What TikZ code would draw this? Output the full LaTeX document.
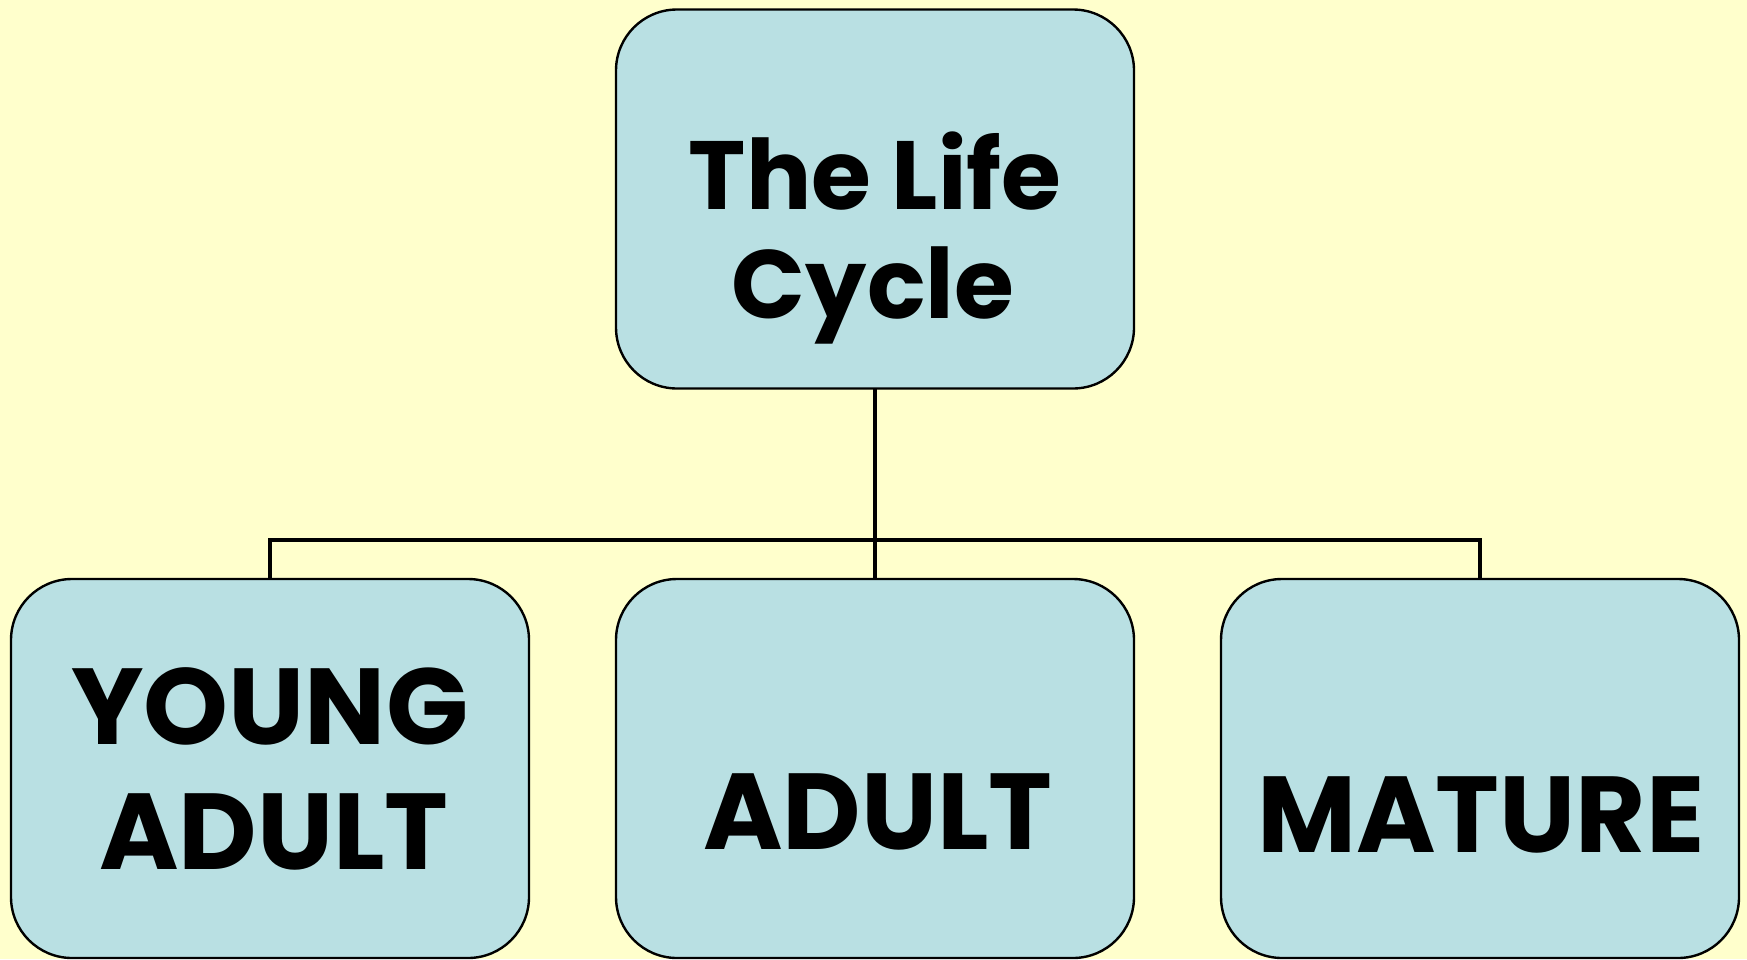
\documentclass[tikz,border=0pt]{standalone}
\usepackage{fontspec}
\setmainfont{Poppins}
\definecolor{bgyellow}{HTML}{FFFFCC}
\definecolor{boxblue}{HTML}{B9E0E3}
\begin{document}
\begin{tikzpicture}[x=1pt,y=-1pt,
  stagebox/.style={draw=black,line width=2.4pt,fill=boxblue,rounded corners=61pt,
    minimum width=518pt,minimum height=379pt,inner sep=0pt,outer sep=0pt},
  bigtext/.style={font=\bfseries\fontsize{108}{125}\selectfont,inner sep=0pt,anchor=base},
  toptext/.style={font=\bfseries\fontsize{97}{108}\selectfont,inner sep=0pt,anchor=base},
  link/.style={line width=4pt}]
\fill[bgyellow] (0,0) rectangle (1747,959);
\useasboundingbox (0,0) rectangle (1747,959);
\node[stagebox] (top) at (875,199) {};
\node[stagebox] (young) at (270,768.5) {};
\node[stagebox] (adult) at (875,768.5) {};
\node[stagebox] (mature) at (1480,768.5) {};
\coordinate (bus) at (875,540);
\draw[link] (top.south) -- (adult.north);
\draw[link] (young.north) |- (bus) -| (mature.north);
\node[toptext] (t1) at (875,209) {The Life};
\node[toptext] (t2) at (873,318) {Cycle};
\node[bigtext] (y1) at (270,744) {YOUNG};
\node[bigtext] (y2) at (274,869) {ADULT};
\node[bigtext] (a1) at (878,849) {ADULT};
\node[bigtext] (m1) at (1481,852) {MATURE};
\end{tikzpicture}
\end{document}
